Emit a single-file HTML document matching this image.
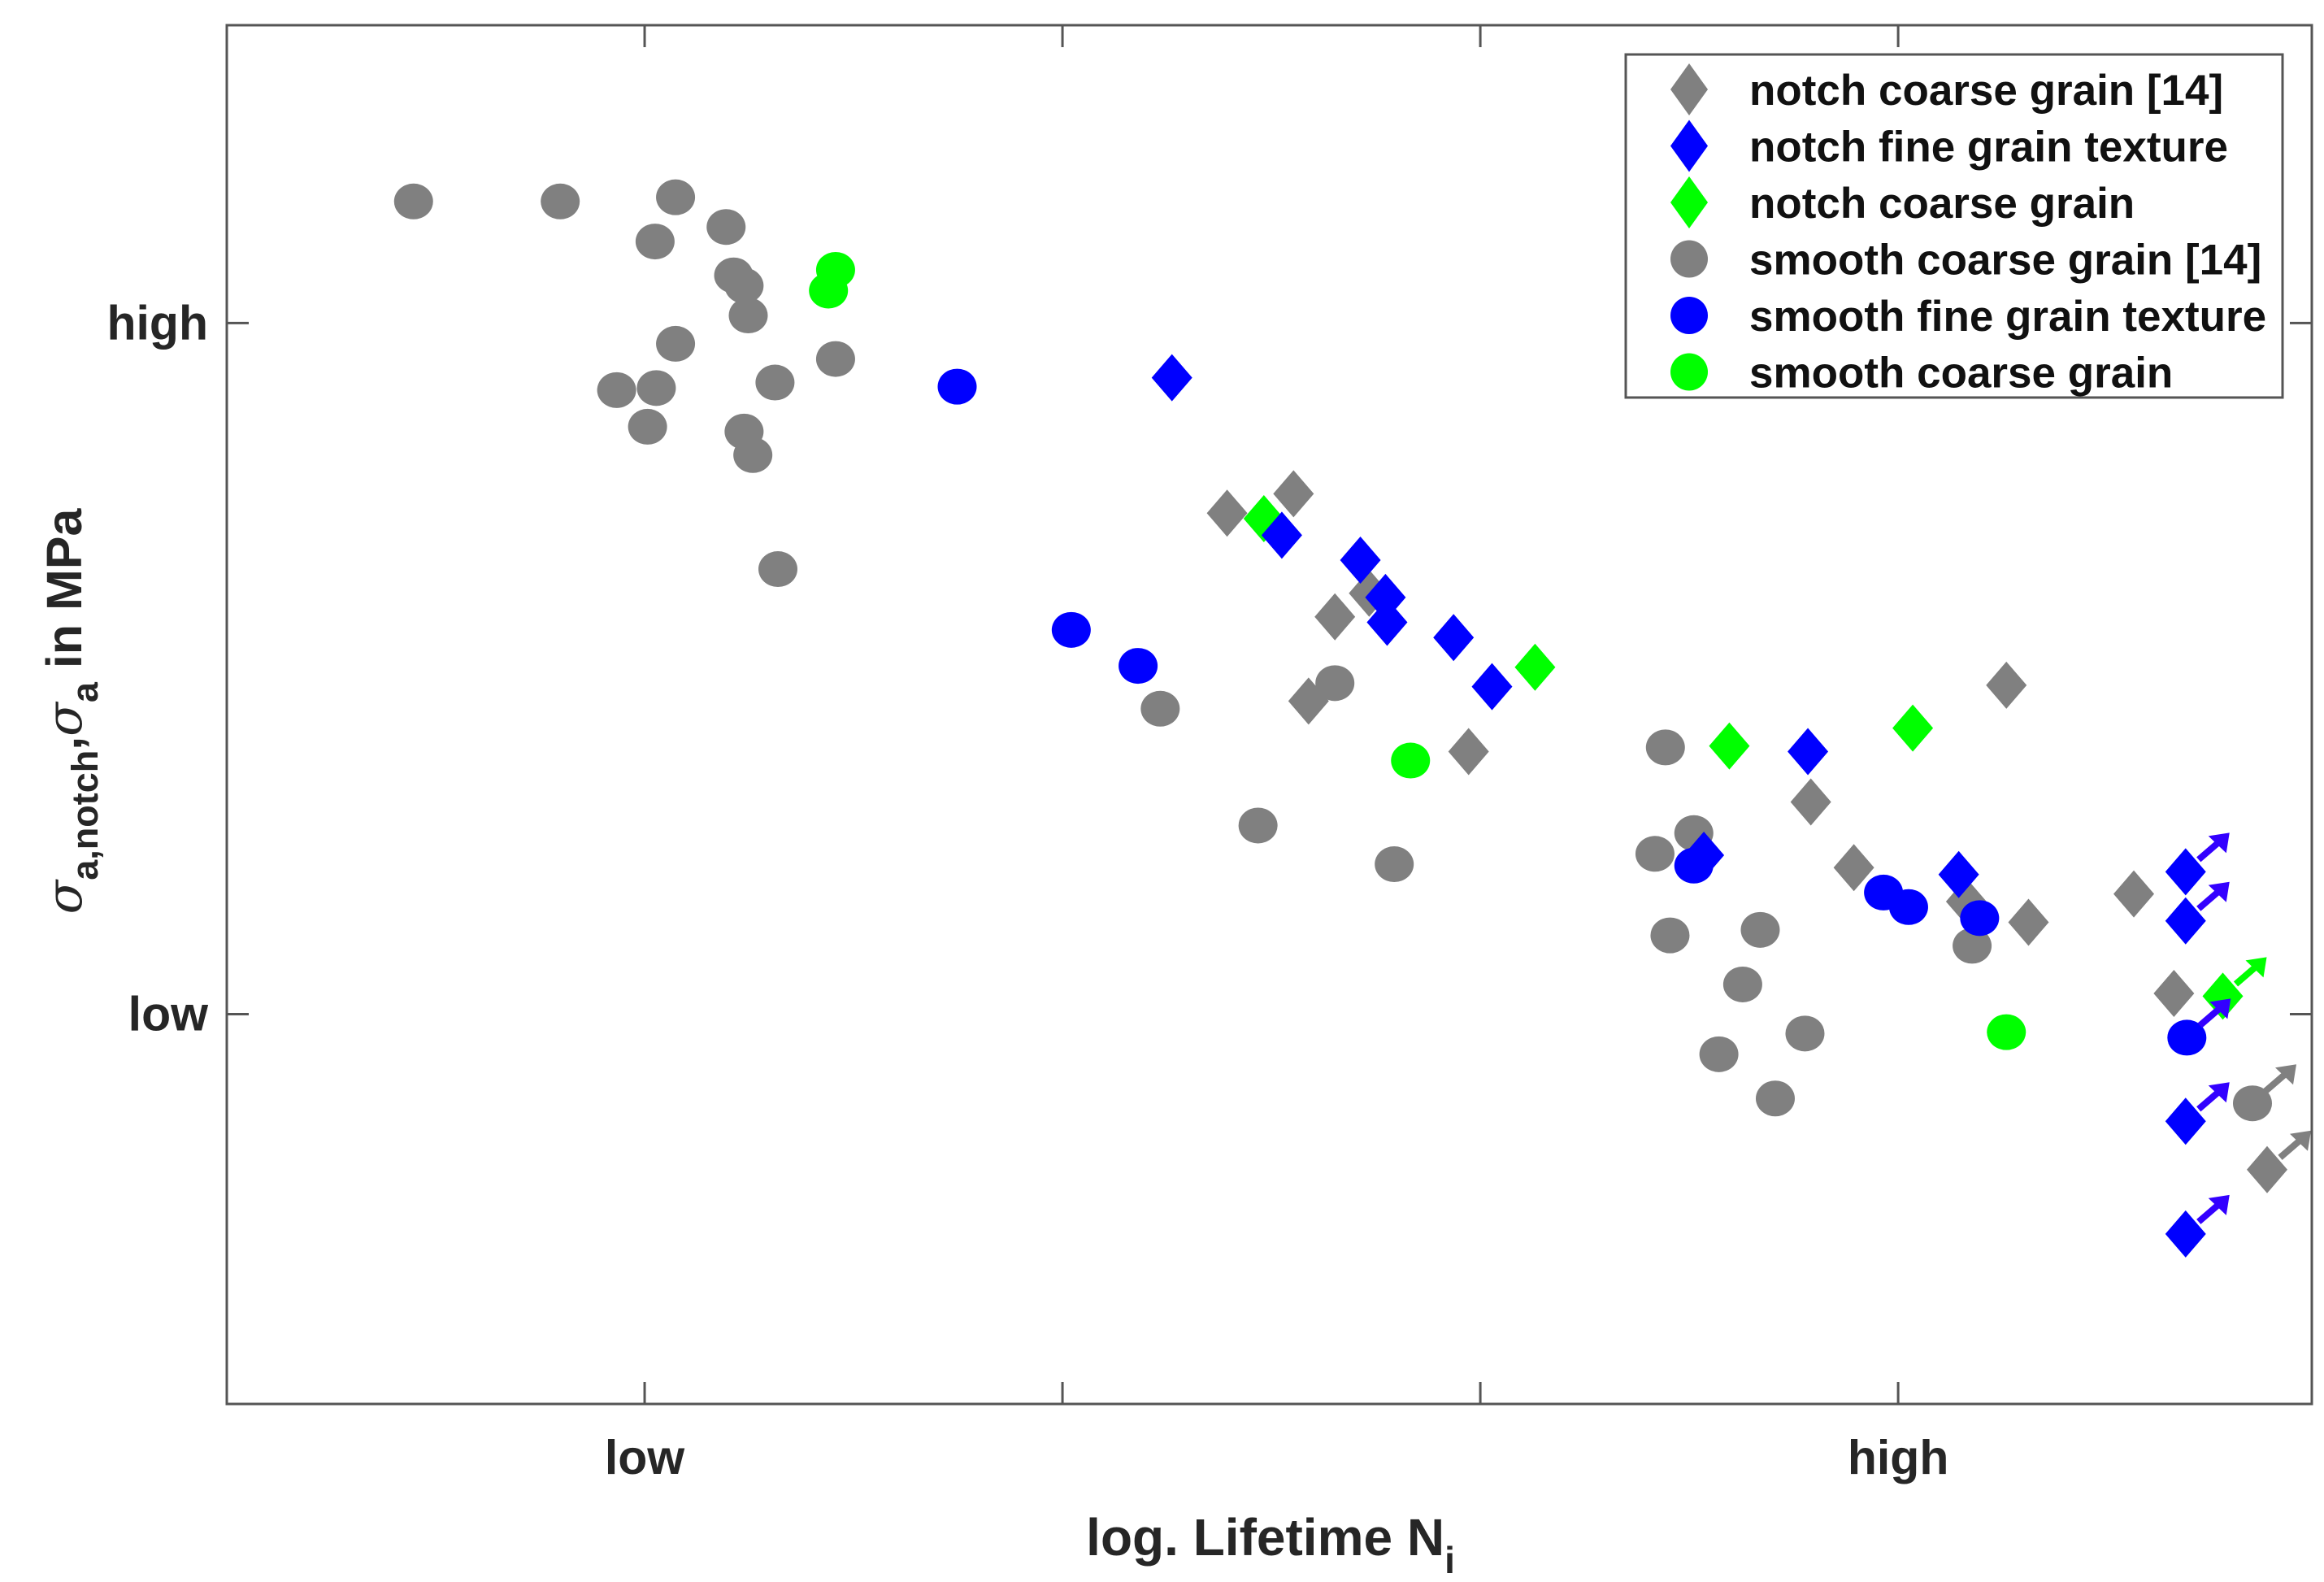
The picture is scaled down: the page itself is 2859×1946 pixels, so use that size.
<!DOCTYPE html>
<html><head><meta charset="utf-8"><style>
html,body{margin:0;padding:0;background:#fff;}
svg{display:block;font-family:"Liberation Sans",Arial,sans-serif;font-weight:bold;}
</style></head><body>
<svg id="chart" xmlns="http://www.w3.org/2000/svg" width="2859" height="1946" viewBox="0 0 2859 1946">
<rect x="0" y="0" width="2859" height="1946" fill="#fff"/>
<g id="marks"></g>
<rect x="279" y="31" width="2565" height="1696" fill="none" stroke="#555" stroke-width="3"/>
<g id="ticks"></g>
<text x="1563" y="1913" font-size="64" text-anchor="middle" fill="#262626">log. Lifetime N<tspan dy="22" font-size="46">i</tspan></text>
<g transform="translate(100,875) rotate(-90)">
<text x="0" y="0" font-size="61" text-anchor="middle" fill="#262626"><tspan font-family="'DejaVu Serif',serif" font-style="italic" font-weight="normal">σ</tspan><tspan dy="20" font-size="45">a,notch</tspan><tspan dy="-20">,</tspan><tspan font-family="'DejaVu Serif',serif" font-style="italic" font-weight="normal">σ</tspan><tspan dy="20" font-size="45">a</tspan><tspan dy="-20"> in MPa</tspan></text>
</g>
<g id="legend"></g>
</svg>
<script>
const xTickVals = [0, 1, 2, 3];
const xTickLabels = ["low", "", "", "high"];
const yTickVals = [0, 1];
const yTickLabels = ["low", "high"];

const gcX = [-0.553,-0.202,0.074,0.195,0.025,0.213,0.238,0.248,0.074,-0.067,0.028,0.312,0.457,0.007,0.238,0.259,0.319,1.234,1.652,1.468,1.794,2.443,2.511,2.418,2.454,2.670,2.628,2.777,2.571,2.706,3.177,3.848];
const gcY = [1.176,1.176,1.182,1.139,1.118,1.069,1.054,1.011,0.970,0.903,0.906,0.914,0.948,0.850,0.843,0.809,0.644,0.442,0.479,0.273,0.217,0.386,0.262,0.232,0.114,0.122,0.043,-0.028,-0.058,-0.122,0.099,-0.129];
const gcRun = [0,0,0,0,0,0,0,0,0,0,0,0,0,0,0,0,0,0,0,0,0,0,0,0,0,0,0,0,0,0,0,1];

const gdX = [1.394,1.553,1.652,1.734,1.589,1.972,2.791,2.894,3.259,3.163,3.312,3.564,3.660,3.883];
const gdY = [0.725,0.753,0.575,0.609,0.453,0.380,0.307,0.212,0.476,0.163,0.133,0.174,0.030,-0.225];
const gdRun = [0,0,0,0,0,0,0,0,0,0,0,0,0,1];

const bdX = [1.262,1.525,1.713,1.773,1.777,1.936,2.028,2.784,2.535,3.145,3.688,3.688,3.688,3.688];
const bdY = [0.921,0.693,0.657,0.603,0.567,0.545,0.474,0.380,0.230,0.202,0.206,0.135,-0.155,-0.318];
const bdRun = [0,0,0,0,0,0,0,0,0,0,1,1,1,1];

const bcX = [0.748,1.021,1.181,2.511,2.965,3.025,3.195,3.691];
const bcY = [0.908,0.556,0.504,0.215,0.176,0.155,0.139,-0.034];
const bcRun = [0,0,0,0,0,0,0,1];

const ndX = [1.482,2.131,2.596,3.035,3.777];
const ndY = [0.717,0.502,0.388,0.414,0.026];
const ndRun = [0,0,0,0,1];

const ncX = [0.457,0.440,1.833,3.259];
const ncY = [1.077,1.047,0.367,-0.026];
const ncRun = [0,0,0,0];

const NS="http://www.w3.org/2000/svg";
const L=279,R=2844,T=31,B=1727;
const xMin=-1.0,xMax=3.99,yMin=-0.564,yMax=1.431;
function sx(v){return L+(v-xMin)/(xMax-xMin)*(R-L);}
function sy(v){return B-(v-yMin)/(yMax-yMin)*(B-T);}
function mk(tag,attrs,parent){const e=document.createElementNS(NS,tag);for(const k in attrs)e.setAttribute(k,attrs[k]);parent.appendChild(e);return e;}

const marks=document.getElementById('marks');
const ticks=document.getElementById('ticks');
const legend=document.getElementById('legend');

function diamond(cx,cy,c,parent,name){
  const e=mk('polygon',{points:`${cx},${cy-29} ${cx+25},${cy} ${cx},${cy+29} ${cx-25},${cy}`,fill:c},parent);
  
  
}
function circle(cx,cy,c,parent,name){
  const e=mk('ellipse',{cx:cx,cy:cy,rx:24,ry:22,fill:c},parent);
  
  
}
function arrow(cx,cy,c){
  const x1=cx+16,y1=cy-15,x2=cx+54,y2=cy-48;
  const e=mk('g',{},marks);
  
  
  mk('line',{x1:x1,y1:y1,x2:x2-9,y2:y2+8,stroke:c,'stroke-width':8},e);
  mk('polygon',{points:`${x2},${y2} ${x2-26},${y2+4} ${x2-4},${y2+25}`,fill:c},e);
}
const series=[
  {x:gcX,y:gcY,r:gcRun,shape:'c',col:'#808080',ac:'#808080',name:'smooth-coarse-grain-14-point'},
  {x:gdX,y:gdY,r:gdRun,shape:'d',col:'#808080',ac:'#808080',name:'notch-coarse-grain-14-point'},
  {x:ndX,y:ndY,r:ndRun,shape:'d',col:'#00ff00',ac:'#00ff00',name:'notch-coarse-grain-point'},
  {x:bcX,y:bcY,r:bcRun,shape:'c',col:'#0000ff',ac:'#3300ff',name:'smooth-fine-grain-texture-point'},
  {x:bdX,y:bdY,r:bdRun,shape:'d',col:'#0000ff',ac:'#3300ff',name:'notch-fine-grain-texture-point'},
  {x:ncX,y:ncY,r:ncRun,shape:'c',col:'#00ff00',ac:'#00ff00',name:'smooth-coarse-grain-point'}
];
series.forEach(s=>{
  for(let i=0;i<s.x.length;i++){
    const cx=sx(s.x[i]),cy=sy(s.y[i]);
    if(s.shape==='c')circle(cx,cy,s.col,marks,s.name);else diamond(cx,cy,s.col,marks,s.name);
    if(s.r[i])arrow(cx,cy,s.ac);
  }
});

xTickVals.forEach((v,i)=>{
  const x=sx(v);
  mk('line',{x1:x,y1:B,x2:x,y2:B-27,stroke:'#555','stroke-width':3},ticks);
  mk('line',{x1:x,y1:T,x2:x,y2:T+27,stroke:'#555','stroke-width':3},ticks);
  if(xTickLabels[i]){
    const t=mk('text',{x:x,y:1813,'font-size':59,'text-anchor':'middle',fill:'#262626'},ticks);
    t.textContent=xTickLabels[i];
    
    
  }
});
yTickVals.forEach((v,i)=>{
  const y=sy(v);
  mk('line',{x1:L,y1:y,x2:L+27,y2:y,stroke:'#555','stroke-width':3},ticks);
  mk('line',{x1:R,y1:y,x2:R-27,y2:y,stroke:'#555','stroke-width':3},ticks);
  const t=mk('text',{x:256,y:y+20,'font-size':59,'text-anchor':'end',fill:'#262626'},ticks);
  t.textContent=yTickLabels[i];
  
  
});

const legNames=["notch coarse grain [14]","notch fine grain texture","notch coarse grain","smooth coarse grain [14]","smooth fine grain texture","smooth coarse grain"];
const legCols=['#808080','#0000ff','#00ff00','#808080','#0000ff','#00ff00'];
const legShapes=['d','d','d','c','c','c'];
const lb=mk('rect',{x:2000,y:67,width:808,height:422,fill:'#fff',stroke:'#555','stroke-width':3},legend);


legNames.forEach((n,i)=>{
  const cy=110+i*69.5;
  const g=mk('g',{},legend);
  
  
  if(legShapes[i]==='d'){
    mk('polygon',{points:`2078,${cy-32} 2101,${cy} 2078,${cy+32} 2055,${cy}`,fill:legCols[i]},g);
  } else {
    mk('ellipse',{cx:2078,cy:cy,rx:23,ry:23,fill:legCols[i]},g);
  }
  const t=mk('text',{x:2152,y:cy+19,'font-size':53,fill:'#111'},g);
  t.textContent=n;
});
</script>
</body></html>
